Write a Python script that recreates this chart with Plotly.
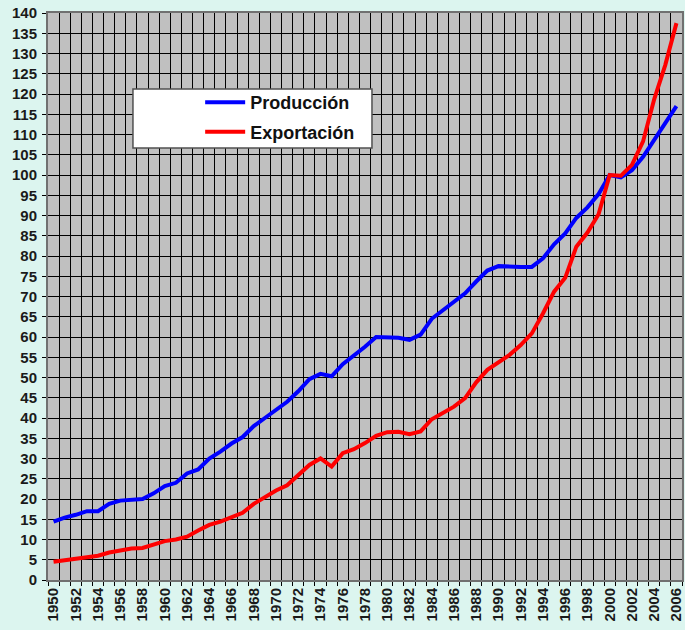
import plotly.graph_objects as go

years = list(range(1950, 2007))

produccion = [
    14.4, 15.4, 16.1, 17.0, 17.0, 18.8, 19.6, 19.9, 20.0, 21.4,
    23.2, 24.0, 26.3, 27.3, 30.0, 31.7, 33.7, 35.3, 38.0, 40.0,
    41.9, 44.0, 46.6, 49.6, 50.9, 50.3, 53.3, 55.3, 57.6, 60.0,
    59.9, 59.8, 59.3, 60.6, 64.5, 66.5, 68.5, 70.8, 73.7, 76.4,
    77.5, 77.3, 77.3, 77.3, 79.4, 82.9, 85.6, 89.4, 92.0, 95.3,
    100.0, 99.4, 101.2, 104.5, 108.8, 113.0, 117.0,
]

exportacion = [
    4.5, 4.9, 5.3, 5.8, 6.0, 6.8, 7.2, 7.8, 7.9, 8.7,
    9.6, 10.0, 10.7, 12.2, 13.6, 14.4, 15.4, 16.6, 18.8, 20.5,
    22.1, 23.4, 26.0, 28.4, 30.0, 28.0, 31.3, 32.3, 33.8, 35.6,
    36.5, 36.6, 36.0, 36.7, 39.7, 41.2, 42.8, 44.9, 48.8, 51.9,
    53.7, 55.6, 58.0, 60.9, 65.8, 71.2, 74.6, 82.3, 85.8, 90.3,
    100.0, 99.8, 102.5, 108.3, 118.7, 127.2, 137.5,
]

x_labels = [str(y) for y in range(1950, 2007, 2)]

FONT = 'Liberation Sans, Arial, sans-serif'
BG = '#dcf5ef'

fig = go.Figure()
fig.add_trace(go.Scatter(
    x=years, y=produccion, name='Producción', mode='lines',
    legendgroup='p',
    line=dict(color='#0000ff', width=4),
))
fig.add_trace(go.Scatter(
    x=years, y=exportacion, name='Exportación', mode='lines',
    legendgroup='e',
    line=dict(color='#ff0000', width=4),
))

# legend box drawn as a shape so it can be wider than the entries
fig.add_shape(
    type='rect', xref='paper', yref='paper',
    x0=0.134, x1=0.511, y0=0.762, y1=0.866,
    fillcolor='white', line=dict(color='#505050', width=1.5),
    layer='above',
)

fig.update_layout(
    width=685, height=630,
    margin=dict(l=48, r=3, t=13, b=50),
    paper_bgcolor=BG,
    plot_bgcolor='#c0c0c0',
    font=dict(family=FONT, color='#1a1a1a'),
    showlegend=True,
    legend=dict(
        x=0.24, y=0.8745, xanchor='left', yanchor='top',
        bgcolor='rgba(0,0,0,0)', borderwidth=0,
        font=dict(size=18, family=FONT, weight='bold', color='#111'),
        itemwidth=40, tracegroupgap=3,
    ),
    xaxis=dict(
        range=[1949.5, 2006.5],
        tickvals=list(range(1950, 2007, 2)),
        ticktext=x_labels,
        tickangle=-90,
        tickfont=dict(size=15, family=FONT, weight='bold'),
        ticklabeloverflow='allow',
        showgrid=False, ticks='', zeroline=False, automargin=False,
        showline=True, linecolor='#707070', linewidth=2, mirror=True,
        minor=dict(tick0=1949.5, dtick=1, showgrid=True, gridcolor='black',
                   gridwidth=1, ticks='outside', ticklen=4, tickcolor='black'),
    ),
    yaxis=dict(
        range=[0, 140], dtick=5,
        tickfont=dict(size=15, family=FONT, weight='bold'),
        ticklabeloverflow='allow', ticklabelstandoff=2,
        showgrid=True, gridcolor='black', gridwidth=1,
        ticks='outside', ticklen=4, tickcolor='black',
        zeroline=False, automargin=False,
        showline=True, linecolor='#707070', linewidth=2, mirror=True,
    ),
)

# drop the default 8px body margin so the figure fills the window
fig.write_html('out.html',
               config={'displayModeBar': False},
               post_script=(f"document.body.style.margin='0';"
                            f"document.body.style.background='{BG}';"))
